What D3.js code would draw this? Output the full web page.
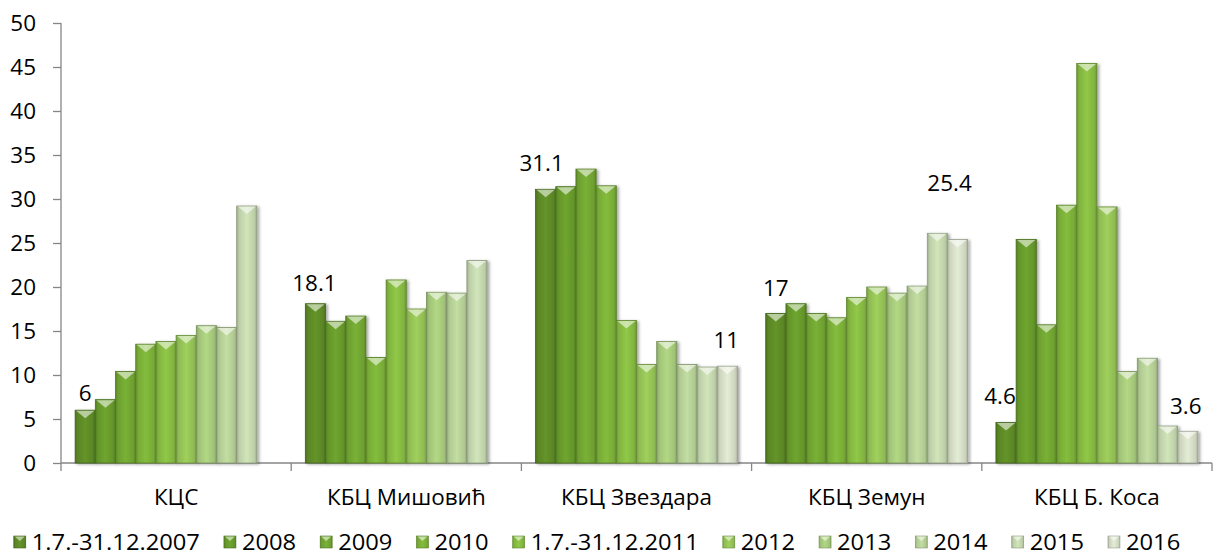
<!DOCTYPE html>
<html><head><meta charset="utf-8">
<script src="https://cdn.jsdelivr.net/npm/d3@7"></script>
<style>html,body{margin:0;padding:0;background:#fff;} svg{display:block;}</style>
</head><body>
<svg id="chart" width="1227" height="555"></svg>
<script>
const categories = ["КЦС", "КБЦ Мишовић", "КБЦ Звездара", "КБЦ Земун", "КБЦ Б. Коса"];
const seriesNames = ["1.7.-31.12.2007", "2008", "2009", "2010", "1.7.-31.12.2011", "2012", "2013", "2014", "2015", "2016"];
const s2007 = [6, 18.1, 31.1, 17, 4.6];
const s2008 = [7.2, 16.1, 31.4, 18.1, 25.4];
const s2009 = [10.4, 16.7, 33.4, 17.0, 15.7];
const s2010 = [13.5, 12.0, 31.5, 16.5, 29.3];
const s2011 = [13.8, 20.8, 16.2, 18.8, 45.4];
const s2012 = [14.5, 17.5, 11.2, 20.0, 29.1];
const s2013 = [15.6, 19.4, 13.8, 19.3, 10.4];
const s2014 = [15.4, 19.3, 11.2, 20.1, 11.9];
const s2015 = [29.2, 23.0, 10.9, 26.1, 4.2];
const s2016 = [null, null, 11, 25.4, 3.6];
const yTicks = [0, 5, 10, 15, 20, 25, 30, 35, 40, 45, 50];
const seriesValues = [s2007, s2008, s2009, s2010, s2011, s2012, s2013, s2014, s2015, s2016];
const seriesColors = ["#5d8a26", "#679a2c", "#71a532", "#7bb038", "#86ba42", "#94c256", "#a6c97b", "#b5cf96", "#c3d5ad", "#d3dcc5"];
// labelled points: [series index, category index, extra vertical offset]
const labelled = [[0,0,-17],[0,1,-20],[0,2,-26],[9,2,-26],[0,3,-25],[9,3,-56],[0,4,-26],[9,4,-25]];
const labelDx = [0,-1,-4,-1,0,-8,-6,-2];

const svg = d3.select("#chart");
const FONT = "'Open Sans', 'Noto Sans', sans-serif";
const SX = 1.07;
const FS = 21;
const pL = 61, pR = 1212, pT = 23, pB = 463;

const x0 = d3.scaleBand().domain(categories).range([pL, pR]).padding(0);
const x1 = d3.scaleBand().domain(d3.range(seriesNames.length)).range([0, x0.bandwidth()]).paddingInner(0).paddingOuter(0.7);
const y = d3.scaleLinear().domain([0, 50]).range([pB, pT]);

const defs = svg.append("defs");
seriesColors.forEach((c, i) => {
  const g = defs.append("linearGradient").attr("id", "g" + i).attr("x1", 0).attr("x2", 1).attr("y1", 0).attr("y2", 0);
  const base = d3.color(c);
  g.append("stop").attr("offset", 0).attr("stop-color", base.darker(0.6));
  g.append("stop").attr("offset", 0.12).attr("stop-color", base.darker(0.1));
  g.append("stop").attr("offset", 0.5).attr("stop-color", base.brighter(0.2));
  g.append("stop").attr("offset", 0.88).attr("stop-color", base.darker(0.1));
  g.append("stop").attr("offset", 1).attr("stop-color", base.darker(0.6));
});
const f = defs.append("filter").attr("id", "sh").attr("x", "-20%").attr("y", "-5%").attr("width", "150%").attr("height", "115%");
f.append("feDropShadow").attr("dx", 2).attr("dy", 1).attr("stdDeviation", 1.5).attr("flood-color", "#000").attr("flood-opacity", 0.35);

function stext(parent, x, yy, str, anchor, sx) {
  const g = parent.append("g").attr("transform", `translate(${x},${yy}) scale(${sx || SX},1)`);
  g.append("text").attr("text-anchor", anchor).attr("font-family", FONT).attr("font-size", FS).attr("fill", "#000").text(str);
  return g;
}

// axes
const yAxis = d3.axisLeft(y).tickValues(yTicks).tickSize(8).tickFormat("");
const ga = svg.append("g").attr("transform", `translate(${pL},0)`).call(yAxis);
ga.selectAll("line,path").attr("stroke", "#868686").attr("stroke-width", 1.3);
ga.select(".domain").attr("d", `M0,${pT}V${pB}`);
yTicks.forEach(t => stext(svg, 36, y(t) + 7.5, String(t), "end"));

const gx = svg.append("g");
gx.append("line").attr("x1", pL).attr("x2", pR).attr("y1", pB).attr("y2", pB).attr("stroke", "#868686").attr("stroke-width", 1.3);
const bounds = categories.map(c => x0(c)).concat([pR]);
gx.selectAll("line.t").data(bounds).join("line").attr("class", "t")
  .attr("x1", d => d).attr("x2", d => d).attr("y1", pB).attr("y2", pB + 8)
  .attr("stroke", "#868686").attr("stroke-width", 1.3);
categories.forEach(c => stext(svg, x0(c) + x0.bandwidth() / 2, 505, c, "middle"));

// bars
const bars = [];
seriesValues.forEach((vals, si) => vals.forEach((v, ci) => { if (v != null) bars.push({si, ci, v}); }));
const bw = x1.bandwidth();
const gb = svg.append("g");
bars.forEach(d => {
  const bx = x0(categories[d.ci]) + x1(d.si);
  const by = y(d.v);
  const h = pB - by;
  const g = gb.append("g");
  g.append("rect").attr("x", bx).attr("y", by).attr("width", bw).attr("height", h)
    .attr("fill", `url(#g${d.si})`).attr("stroke", d3.color(seriesColors[d.si]).darker(0.9)).attr("stroke-width", 0.8)
    .attr("filter", "url(#sh)");
  const th = Math.min(8, h);
  g.append("path").attr("d", `M${bx + 1},${by + 0.5}L${bx + bw - 1},${by + 0.5}L${bx + bw / 2},${by + th}Z`)
    .attr("fill", "#fff").attr("opacity", 0.55);
});

// labels
labelled.forEach((l, i) => {
  const [si, ci, dy] = l;
  const v = seriesValues[si][ci];
  const cx = x0(categories[ci]) + x1(si) + bw / 2 + labelDx[i];
  stext(svg, cx, y(v) + dy + 7.5, String(v), "middle");
});

// legend
const lg = svg.append("g");
let lx = 0;
const GAP = 24;
const LSX = 1.13;
seriesNames.forEach((n, i) => {
  const g = lg.append("g").attr("transform", `translate(${lx},0)`);
  g.append("rect").attr("x", 0).attr("y", 536).attr("width", 12).attr("height", 12)
    .attr("fill", `url(#g${i})`).attr("stroke", d3.color(seriesColors[i]).darker(0.9)).attr("stroke-width", 0.6);
  g.append("path").attr("d", "M1,536.5L11,536.5L6,541Z").attr("fill", "#fff").attr("opacity", 0.55);
  const t = stext(g, 18, 549.5, n, "start", LSX);
  const w = t.node().getBBox().width * LSX;
  lx += 18 + w + GAP;
});
const totalW = lx - GAP;
lg.attr("transform", `translate(${597 - totalW / 2},0)`);
</script>
</body></html>
